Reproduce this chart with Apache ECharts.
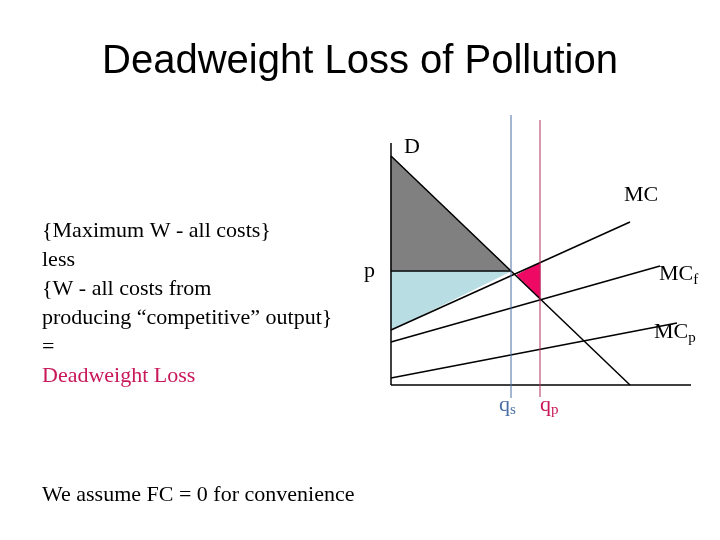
<!DOCTYPE html>
<html><head><meta charset="utf-8">
<script src="https://cdn.jsdelivr.net/npm/echarts@6/dist/echarts.min.js"></script>
<style>body{margin:0;background:#fff}#c{width:720px;height:540px}</style>
</head><body><div id="c"></div>
<script>
// curve end points in chart units
var demand = [[0, 229], [239, 0]];
var mcSocial = [[0, 55], [239, 163]];
var mcFirm = [[0, 43], [269, 119]];
var mcPrivate = [[0, 7], [286, 62]];
var priceP = 114;
var qS = 120, qP = 149;
var grayArea = [[0, 229], [0, priceP], [120, priceP]];
var blueArea = [[0, priceP], [120, priceP], [0, 55]];
var pinkArea = [[126, 110], [qP, 122], [qP, 86]];
var textLines = ['{Maximum W - all costs}', 'less', '{W - all costs from', 'producing \u201ccompetitive\u201d output}', '='];

var myChart = echarts.init(document.getElementById('c'));

function seg(data, color, width) {
    return {type: 'line', data: data, symbol: 'none', clip: false, silent: true,
        lineStyle: {color: color || '#000', width: width || 1.5}, z: 5};
}
function area(data, color) {
    return {type: 'custom', silent: true, z: 2, data: [0],
        renderItem: function (params, api) {
            var pts = data.map(function (d) { return api.coord(d); });
            return {type: 'polygon', shape: {points: pts}, style: {fill: color, stroke: color}};
        }};
}

var serif = 'Liberation Serif';
var graphics = [
    {type: 'text', left: 'center', top: 42, style: {text: 'Deadweight Loss of Pollution', font: '40px Liberation Sans', fill: '#000'}},
    {type: 'text', left: 42, top: 496 - 12, style: {text: 'We assume FC = 0 for convenience', font: '22px ' + serif, fill: '#000'}}
];
textLines.forEach(function (t, i) {
    graphics.push({type: 'text', left: 42, top: 220 + i * 29, style: {text: t, font: '22px ' + serif, fill: '#000'}});
});
graphics.push({type: 'text', left: 42, top: 365, style: {text: 'Deadweight Loss', font: '22px ' + serif, fill: '#c8185a'}});
graphics.push({type: 'text', left: 364, top: 260, style: {text: 'p', font: '22px ' + serif, fill: '#000'}});
graphics.push({type: 'text', left: 404, top: 136, style: {text: 'D', font: '22px ' + serif, fill: '#000'}});
graphics.push({type: 'text', left: 624, top: 184, style: {text: 'MC', font: '22px ' + serif, fill: '#000'}});
graphics.push({type: 'text', left: 659, top: 263, style: {text: 'MC{s|f}', font: '22px ' + serif, fill: '#000',
    rich: {s: {font: '15px ' + serif, fill: '#000', padding: [12, 0, 0, 0]}}}});
graphics.push({type: 'text', left: 654, top: 321, style: {text: 'MC{s|p}', font: '22px ' + serif, fill: '#000',
    rich: {s: {font: '15px ' + serif, fill: '#000', padding: [12, 0, 0, 0]}}}});
graphics.push({type: 'text', left: 499, top: 394, style: {text: 'q{s|s}', font: '22px ' + serif, fill: '#4a6fa5',
    rich: {s: {font: '15px ' + serif, fill: '#4a6fa5', padding: [10, 0, 0, 0]}}}});
graphics.push({type: 'text', left: 540, top: 394, style: {text: 'q{s|p}', font: '22px ' + serif, fill: '#c8185a',
    rich: {s: {font: '15px ' + serif, fill: '#c8185a', padding: [10, 0, 0, 0]}}}});

var option = {
    animation: false,
    grid: {left: 391, top: 135, width: 300, height: 250},
    xAxis: {type: 'value', min: 0, max: 300, show: false},
    yAxis: {type: 'value', min: 0, max: 250, show: false},
    graphic: graphics,
    series: [
        area(grayArea, '#808080'),
        area(blueArea, '#b8dde2'),
        area(pinkArea, '#ee0a64'),
        seg([[0, 0], [0, 242]]),
        seg([[0, 0], [300, 0]]),
        seg([[0, priceP], [qS, priceP]]),
        seg(demand),
        seg(mcSocial),
        seg(mcFirm),
        seg(mcPrivate),
        seg([[qS, -13], [qS, 270]], '#4a6fa5', 1),
        seg([[qP, -12], [qP, 265]], '#b03060', 1)
    ]
};
myChart.setOption(option);
</script></body></html>
